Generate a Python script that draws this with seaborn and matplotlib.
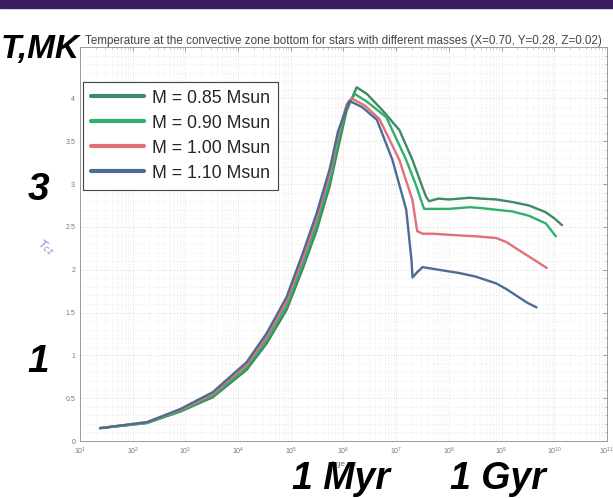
import numpy as np
import pandas as pd
import matplotlib
matplotlib.use("Agg")
import matplotlib.pyplot as plt
from matplotlib.patches import Rectangle
from matplotlib.ticker import LogLocator, LogFormatterMathtext, MultipleLocator
import seaborn as sns

# ---------------- data ----------------
masses = ["M = 0.85 Msun", "M = 0.90 Msun", "M = 1.00 Msun", "M = 1.10 Msun"]
colors = ["#3f8a62", "#2fb06c", "#e2707a", "#4d6c94"]

rise_age = [2.4e1, 1.86e2, 7.8e2, 3.3e3, 1.45e4, 3.5e4, 8.3e4, 1.66e5, 3.1e5, 5.5e5, 7.9e5, 1.15e6]

age_085 = rise_age + [1.78e6, 2.8e6, 5.5e6, 1.15e7, 2.04e7, 3.16e7, 3.7e7, 4.2e7, 6.3e7, 1.0e8,
                      1.6e8, 2.5e8, 4.0e8, 7.9e8, 1.6e9, 3.3e9, 6.9e9, 1.0e10, 1.4e10]
t_085 = [0.15, 0.21, 0.34, 0.51, 0.83, 1.14, 1.53, 2.00, 2.46, 2.98, 3.42, 3.86,
         4.13, 4.05, 3.86, 3.63, 3.28, 2.96, 2.85, 2.80, 2.83, 2.82,
         2.83, 2.84, 2.83, 2.82, 2.79, 2.75, 2.67, 2.60, 2.52]

age_090 = rise_age + [1.66e6, 2.8e6, 6.5e6, 1.55e7, 2.4e7, 3.16e7, 3.4e7, 5.0e7, 1.0e8,
                      1.6e8, 2.5e8, 4.0e8, 7.9e8, 1.6e9, 3.3e9, 6.9e9, 1.07e10]
t_090 = [0.15, 0.21, 0.35, 0.53, 0.86, 1.18, 1.58, 2.06, 2.53, 3.05, 3.50, 3.92,
         4.05, 3.96, 3.78, 3.28, 2.98, 2.76, 2.71, 2.71, 2.71,
         2.72, 2.73, 2.72, 2.70, 2.68, 2.63, 2.54, 2.39]

age_100 = rise_age + [1.41e6, 2.5e6, 4.8e6, 1.15e7, 2.04e7, 2.5e7, 3.16e7, 5.0e7, 8.9e7,
                      1.6e8, 3.2e8, 7.9e8, 1.26e9, 2.1e9, 3.8e9, 7.2e9]
t_100 = [0.15, 0.22, 0.36, 0.55, 0.89, 1.22, 1.63, 2.12, 2.60, 3.12, 3.58, 3.93,
         4.00, 3.92, 3.76, 3.28, 2.81, 2.45, 2.42, 2.42, 2.41,
         2.40, 2.39, 2.37, 2.32, 2.23, 2.13, 2.02]

age_110 = rise_age[:-1] + [1.29e6, 2.24e6, 4.3e6, 8.5e6, 1.55e7, 1.95e7, 2.04e7, 2.5e7, 3.16e7,
                           6.3e7, 1.6e8, 3.2e8, 7.9e8, 1.26e9, 2.1e9, 3.16e9, 4.6e9]
t_110 = [0.15, 0.22, 0.37, 0.57, 0.92, 1.26, 1.68, 2.18, 2.66, 3.18, 3.62,
         3.97, 3.90, 3.75, 3.28, 2.70, 2.11, 1.91, 1.97, 2.03,
         2.00, 1.96, 1.92, 1.84, 1.77, 1.68, 1.61, 1.56]

yticks = [0, 0.5, 1, 1.5, 2, 2.5, 3, 3.5, 4]
title = "Temperature at the convective zone bottom for stars with different masses (X=0.70, Y=0.28, Z=0.02)"

frames = []
for m, a, t in zip(masses, [age_085, age_090, age_100, age_110], [t_085, t_090, t_100, t_110]):
    frames.append(pd.DataFrame({"age": a, "T": t, "mass": m}))
df = pd.concat(frames, ignore_index=True)

# ---------------- style ----------------
sns.set_style("white")
plt.rcParams["font.family"] = ["Liberation Sans", "DejaVu Sans"]

W, H = 613, 498
fig = plt.figure(figsize=(W / 100, H / 100), dpi=100)
L, R, B, T = 80, 607, 441, 47
ax = fig.add_axes([L / W, 1 - B / H, (R - L) / W, (B - T) / H])

sns.lineplot(data=df, x="age", y="T", hue="mass", palette=dict(zip(masses, colors)),
             sort=False, estimator=None, linewidth=1.7, ax=ax, legend=True)

ax.set_xscale("log")
ax.set_xlim(1e1, 1e11)
ax.set_ylim(0, 4.6)
ax.xaxis.set_major_locator(LogLocator(base=10, numticks=20))
ax.xaxis.set_minor_locator(LogLocator(base=10, subs=np.arange(2, 10), numticks=200))
ax.xaxis.set_major_formatter(LogFormatterMathtext())
ax.set_yticks(yticks)
ax.set_yticklabels([f"{v:g}" for v in yticks])
ax.yaxis.set_minor_locator(MultipleLocator(0.1))

ax.grid(True, which="major", color="#d8d8d8", linewidth=0.6, linestyle=":")
ax.grid(True, which="minor", color="#e6e6e6", linewidth=0.5, linestyle=":")
ax.tick_params(axis="both", which="major", labelsize=5, colors="#777777", direction="in",
               length=3, width=0.5, top=True, right=True)
ax.tick_params(axis="both", which="minor", direction="in", length=1.5, width=0.4,
               colors="#999999", top=True, right=True)
for s in ax.spines.values():
    s.set_color("#9a9a9a")
    s.set_linewidth(0.7)

ax.set_xlabel("Age, yr", fontsize=6, color="#666666", labelpad=3)
ax.set_ylabel("")
ax.set_title(title, fontsize=8.4, color="#444444", pad=2)

handles, labels = ax.get_legend_handles_labels()
leg = ax.legend(handles, labels, loc="upper left", bbox_to_anchor=(0.005, 0.912),
                borderaxespad=0, fontsize=12.8, handlelength=3.0, labelspacing=0.45,
                frameon=True, fancybox=False, edgecolor="#444444", framealpha=1,
                borderpad=0.45, handletextpad=0.45)
leg.get_frame().set_linewidth(0.8)
for ln in leg.get_lines():
    ln.set_linewidth(3)

# decorations / annotations
fig.patches.append(Rectangle((0, 1 - 8 / H), 1, 8 / H, transform=fig.transFigure,
                             color="#3b1d5e", zorder=0))
big = dict(fontweight="bold", fontstyle="italic", color="black")
fig.text(1 / W, 1 - 58 / H, "T,MK", ha="left", va="baseline", fontsize=24, **big)
fig.text(38 / W, 1 - 200 / H, "3", ha="center", va="baseline", fontsize=28, **big)
fig.text(38 / W, 1 - 372 / H, "1", ha="center", va="baseline", fontsize=28, **big)
fig.text(341 / W, 1 - 489 / H, "1 Myr", ha="center", va="baseline", zorder=10,
         fontsize=27, **big)
fig.text(498 / W, 1 - 489 / H, "1 Gyr", ha="center", va="baseline", zorder=10,
         fontsize=27, **big)
fig.text(46 / W, 1 - 247 / H, r"$T_{cz}$", ha="center", va="center", fontsize=8,
         color="#8a8ad0", rotation=-35)

fig.savefig("out.png", dpi=100)
